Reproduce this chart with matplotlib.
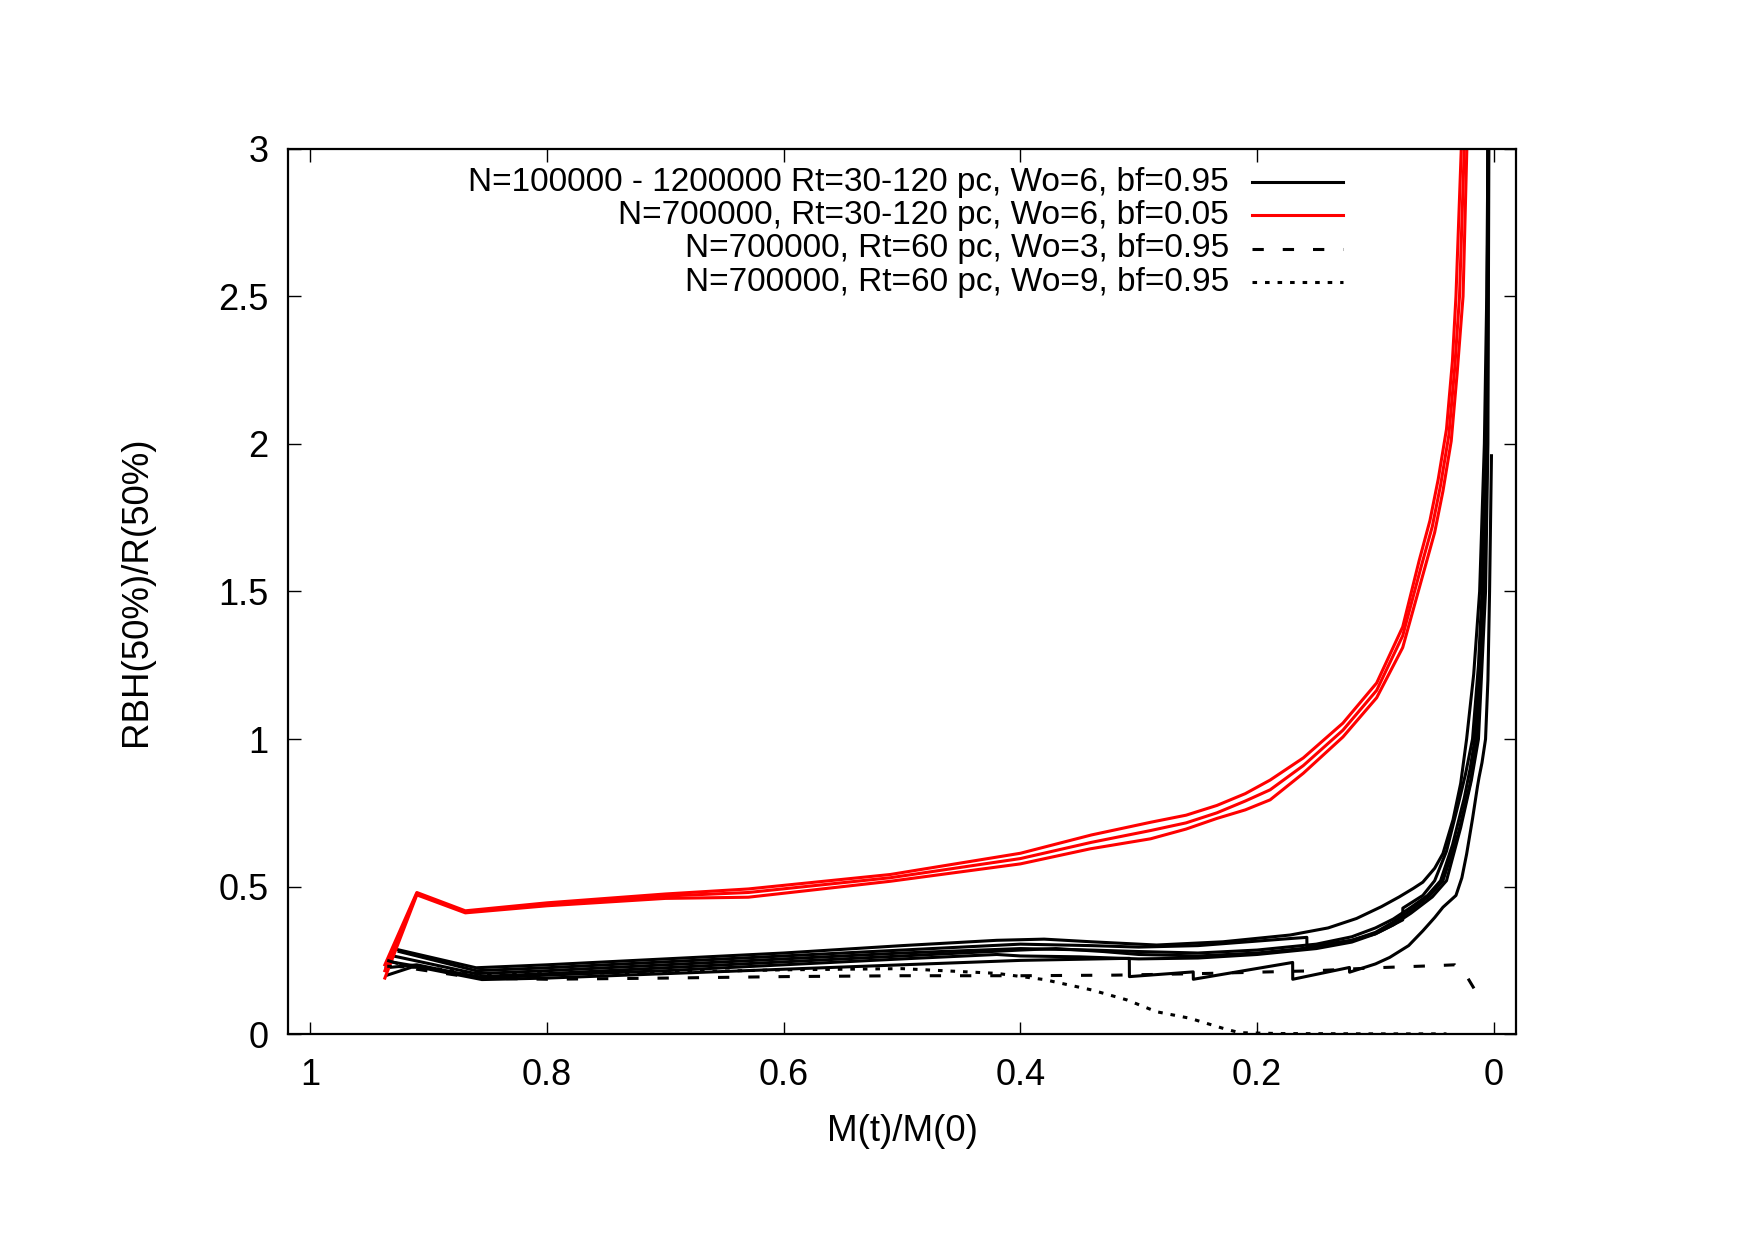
import matplotlib
matplotlib.use("Agg")
import matplotlib.pyplot as plt
from matplotlib.lines import Line2D

plt.rcParams['font.family'] = ['Liberation Sans', 'DejaVu Sans']

# M(t)/M(0) vs RBH(50%)/R(50%)

# black, N=100000 - 1200000, bf=0.95 (six runs)
b1_x = [0.930, 0.860, 0.800, 0.700, 0.600, 0.500, 0.420, 0.380, 0.340, 0.285, 0.229, 0.172,
        0.140, 0.116, 0.095, 0.080, 0.068, 0.060, 0.050, 0.043, 0.0345, 0.028, 0.023, 0.017,
        0.012, 0.008, 0.006, 0.005, 0.0045]
b1_y = [0.290, 0.225, 0.235, 0.255, 0.275, 0.300, 0.318, 0.322, 0.313, 0.302, 0.313, 0.336,
        0.360, 0.392, 0.432, 0.465, 0.494, 0.515, 0.562, 0.612, 0.726, 0.850, 1.000, 1.220,
        1.500, 2.000, 2.500, 3.000, 3.300]

b2_x = [0.925, 0.860, 0.800, 0.700, 0.600, 0.500, 0.400, 0.340, 0.300, 0.250, 0.172, 0.158,
        0.1579, 0.120, 0.100, 0.077, 0.0769, 0.060, 0.050, 0.040, 0.030, 0.024, 0.018, 0.013,
        0.010, 0.0065, 0.0055, 0.0050, 0.0048]
b2_y = [0.280, 0.215, 0.225, 0.245, 0.265, 0.285, 0.305, 0.300, 0.295, 0.300, 0.324, 0.328,
        0.296, 0.318, 0.340, 0.387, 0.427, 0.470, 0.520, 0.620, 0.780, 0.880, 1.000, 1.250,
        1.500, 2.000, 2.500, 3.000, 3.300]

b3_x = [0.930, 0.860, 0.800, 0.700, 0.600, 0.500, 0.400, 0.340, 0.300, 0.250, 0.200, 0.150,
        0.120, 0.100, 0.085, 0.070, 0.056, 0.045, 0.035, 0.025, 0.020, 0.016, 0.012, 0.009,
        0.006, 0.005, 0.0047]
b3_y = [0.265, 0.205, 0.215, 0.235, 0.255, 0.275, 0.290, 0.285, 0.280, 0.275, 0.285, 0.305,
        0.330, 0.360, 0.390, 0.430, 0.470, 0.520, 0.640, 0.800, 0.900, 1.000, 1.250, 1.500,
        2.000, 3.000, 3.300]

b4_x = [0.932, 0.858, 0.800, 0.700, 0.600, 0.500, 0.400, 0.370, 0.330, 0.300, 0.250, 0.200,
        0.150, 0.120, 0.100, 0.085, 0.070, 0.054, 0.043, 0.030, 0.020, 0.014, 0.011, 0.008,
        0.0055, 0.0045, 0.0043]
b4_y = [0.245, 0.195, 0.205, 0.225, 0.245, 0.265, 0.285, 0.290, 0.280, 0.270, 0.265, 0.275,
        0.295, 0.318, 0.345, 0.380, 0.420, 0.470, 0.520, 0.680, 0.850, 1.000, 1.250, 1.500,
        2.000, 3.000, 3.300]

b5_x = [0.936, 0.910, 0.855, 0.800, 0.700, 0.600, 0.500, 0.420, 0.400, 0.350, 0.300, 0.250,
        0.200, 0.150, 0.120, 0.100, 0.085, 0.070, 0.052, 0.040, 0.028, 0.019, 0.013, 0.010,
        0.007, 0.005, 0.0042, 0.0040]
b5_y = [0.225, 0.235, 0.190, 0.200, 0.215, 0.235, 0.255, 0.270, 0.265, 0.262, 0.255, 0.258,
        0.270, 0.290, 0.312, 0.340, 0.370, 0.410, 0.465, 0.520, 0.700, 0.860, 1.000, 1.250,
        1.500, 2.000, 3.000, 3.300]

b6_x = [0.935, 0.912, 0.855, 0.800, 0.700, 0.600, 0.500, 0.400, 0.308, 0.3079, 0.254, 0.2539,
        0.170, 0.1699, 0.122, 0.1219, 0.100, 0.088, 0.072, 0.060, 0.050, 0.043, 0.032, 0.027,
        0.023, 0.018, 0.0138, 0.0125, 0.010, 0.007, 0.005, 0.0036, 0.0020]
b6_y = [0.200, 0.230, 0.185, 0.190, 0.205, 0.220, 0.235, 0.250, 0.257, 0.195, 0.211, 0.186,
        0.243, 0.186, 0.226, 0.210, 0.238, 0.260, 0.300, 0.350, 0.395, 0.430, 0.470, 0.530,
        0.610, 0.730, 0.840, 0.870, 0.920, 1.000, 1.200, 1.500, 1.960]

# red, N=700000, bf=0.05 (three runs)
r1_x = [0.937, 0.910, 0.869, 0.800, 0.700, 0.630, 0.510, 0.400, 0.340, 0.290, 0.260, 0.234,
        0.210, 0.189, 0.161, 0.1275, 0.099, 0.077, 0.063, 0.054, 0.047, 0.040, 0.035, 0.032,
        0.0275, 0.024]
r1_y = [0.235, 0.480, 0.418, 0.445, 0.475, 0.492, 0.541, 0.613, 0.675, 0.718, 0.742, 0.775,
        0.815, 0.861, 0.936, 1.054, 1.190, 1.380, 1.606, 1.740, 1.880, 2.050, 2.280, 2.500,
        3.000, 3.300]

r2_x = [0.937, 0.910, 0.869, 0.800, 0.700, 0.630, 0.510, 0.400, 0.340, 0.290, 0.260, 0.234,
        0.210, 0.189, 0.161, 0.1275, 0.099, 0.077, 0.061, 0.052, 0.045, 0.038, 0.033, 0.029,
        0.025, 0.022]
r2_y = [0.215, 0.476, 0.414, 0.440, 0.468, 0.480, 0.530, 0.595, 0.650, 0.690, 0.716, 0.750,
        0.790, 0.828, 0.910, 1.030, 1.165, 1.350, 1.590, 1.720, 1.860, 2.030, 2.260, 2.500,
        3.000, 3.300]

r3_x = [0.937, 0.910, 0.869, 0.800, 0.700, 0.630, 0.510, 0.400, 0.341, 0.290, 0.260, 0.234,
        0.210, 0.189, 0.161, 0.1275, 0.099, 0.077, 0.059, 0.050, 0.043, 0.036, 0.031, 0.026,
        0.0228, 0.020]
r3_y = [0.190, 0.472, 0.411, 0.435, 0.460, 0.464, 0.518, 0.577, 0.628, 0.662, 0.695, 0.731,
        0.760, 0.794, 0.884, 1.007, 1.140, 1.310, 1.570, 1.700, 1.840, 2.010, 2.240, 2.500,
        3.000, 3.300]

# N=700000, Rt=60 pc, Wo=3 (dashed)
w3_x = [0.935, 0.910, 0.860, 0.800, 0.700, 0.600, 0.500, 0.400, 0.320, 0.250, 0.200, 0.150,
        0.100, 0.050, 0.033, 0.022, 0.016]
w3_y = [0.250, 0.220, 0.190, 0.186, 0.190, 0.195, 0.198, 0.198, 0.200, 0.205, 0.210, 0.215,
        0.225, 0.232, 0.235, 0.190, 0.150]

# N=700000, Rt=60 pc, Wo=9 (dotted)
w9_x = [0.935, 0.900, 0.860, 0.800, 0.700, 0.600, 0.500, 0.450, 0.420, 0.380, 0.340, 0.310,
        0.285, 0.257, 0.229, 0.215, 0.180, 0.100, 0.040]
w9_y = [0.230, 0.225, 0.205, 0.205, 0.210, 0.218, 0.222, 0.212, 0.206, 0.185, 0.150, 0.116,
        0.076, 0.054, 0.020, 0.005, 0.002, 0.001, 0.001]

labels = ["N=100000 - 1200000 Rt=30-120 pc, Wo=6, bf=0.95",
          "N=700000, Rt=30-120 pc, Wo=6, bf=0.05",
          "N=700000, Rt=60 pc, Wo=3, bf=0.95",
          "N=700000, Rt=60 pc, Wo=9, bf=0.95"]

x_ticks = [1, 0.8, 0.6, 0.4, 0.2, 0]
x_ticklabels = ["1", "0.8", "0.6", "0.4", "0.2", "0"]
y_ticks = [0, 0.5, 1, 1.5, 2, 2.5, 3]
y_ticklabels = ["0", "0.5", "1", "1.5", "2", "2.5", "3"]

fig = plt.figure(figsize=(17.55, 12.40), dpi=100)
ax = fig.add_axes([0.164, 0.166, 0.700, 0.714])

lw = 2.2
dash_style = (3.7, 6.2)
dot_style = (1.5, 2.6)

black_runs = [(b1_x, b1_y), (b2_x, b2_y), (b3_x, b3_y), (b4_x, b4_y), (b5_x, b5_y), (b6_x, b6_y)]
for xs, ys in black_runs:
    ax.plot(xs, ys, color='black', lw=lw)

red_runs = [(r1_x, r1_y), (r2_x, r2_y), (r3_x, r3_y)]
for xs, ys in red_runs:
    ax.plot(xs, ys, color='#ff0000', lw=lw)

ax.plot(w3_x, w3_y, color='black', lw=lw, dashes=dash_style)
ax.plot(w9_x, w9_y, color='black', lw=lw, dashes=dot_style)

ax.set_xlim(1.019, -0.019)
ax.set_ylim(0, 3)

ax.set_xticks(x_ticks)
ax.set_xticklabels(x_ticklabels)
ax.set_yticks(y_ticks)
ax.set_yticklabels(y_ticklabels)
ax.tick_params(direction='in', length=9, width=1.0, labelsize=26,
               top=True, right=True)
ax.tick_params(axis='x', pad=17)
ax.tick_params(axis='y', pad=14)
for s in ax.spines.values():
    s.set_linewidth(1.6)

ax.set_xlabel("M(t)/M(0)", fontsize=26.5, va='center')
ax.set_ylabel("RBH(50%)/R(50%)", fontsize=26.5, va='center')
ax.xaxis.set_label_coords(0.5, -0.110)
ax.yaxis.set_label_coords(-0.123, 0.5)

# gnuplot style key: right-aligned text, sample line on the right
key_styles = [dict(color='black'), dict(color='#ff0000'),
              dict(color='black', dashes=dash_style), dict(color='black', dashes=dot_style)]
key_rows = [0.962, 0.925, 0.887, 0.849]
for lab, st, yk in zip(labels, key_styles, key_rows):
    ax.text(0.766, yk, lab, transform=ax.transAxes, ha='right', va='center', fontsize=24)
    ax.add_line(Line2D([0.785, 0.859], [yk, yk], transform=ax.transAxes, lw=lw, **st))

fig.savefig("out.png", dpi=100)
